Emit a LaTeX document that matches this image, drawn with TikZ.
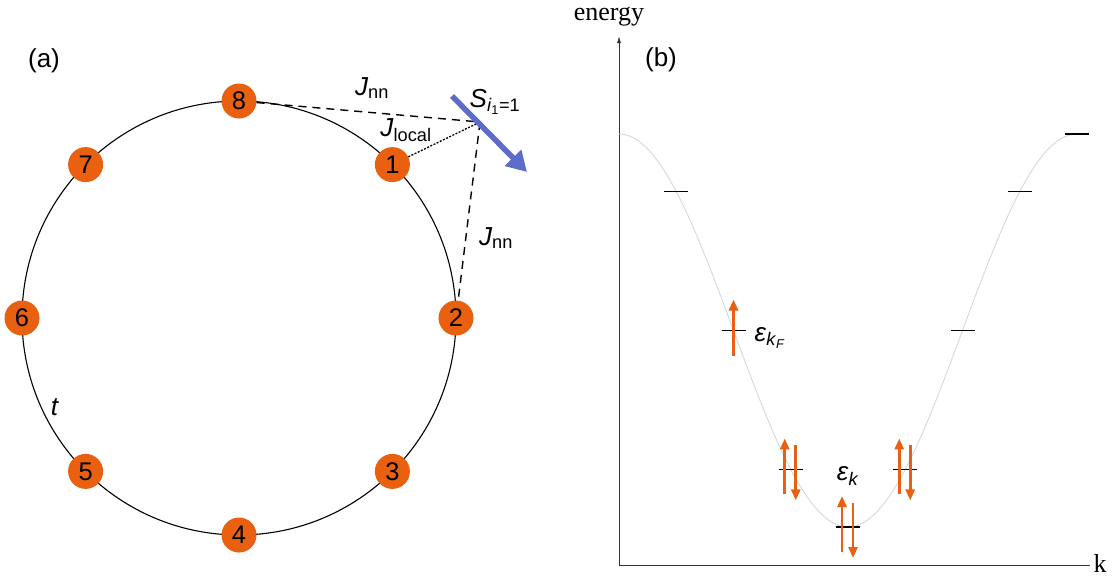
\documentclass[tikz,border=0pt]{standalone}
\usepackage{fontspec}
\setmainfont{Liberation Sans}
\newfontfamily\seriffont{Liberation Serif}
\usetikzlibrary{arrows.meta}
\definecolor{siteorange}{RGB}{232,96,16}
\definecolor{spinblue}{RGB}{92,108,200}
\definecolor{curvegray}{RGB}{215,215,215}
\begin{document}
\begin{tikzpicture}[x=1pt,y=-1pt,
  site/.style={circle,fill=siteorange,inner sep=0pt,minimum size=35pt,font=\fontsize{25.5}{26}\selectfont},
  lbl/.style={font=\fontsize{26}{28}\selectfont,inner sep=0pt},
  coupling/.style={dash pattern=on 8pt off 6pt,line width=1.4pt},
  localc/.style={dash pattern=on 2pt off 1.5pt,line width=1.3pt},
  levelbar/.style={line width=1.7pt},
  spinup/.style={siteorange,line width=2.8pt,-{Triangle[length=11pt,width=9pt]}},
]
\useasboundingbox (0,0) rectangle (1116,581);
% ---- panel (a)
\draw[line width=1.1pt] (239,318) circle[radius=217pt];
\node[site] (n8) at (239,101) {8};
\node[site] (n1) at (392.4,164.6) {1};
\node[site] (n2) at (456,318) {2};
\node[site] (n3) at (392.4,471.4) {3};
\node[site] (n4) at (239,535) {4};
\node[site] (n5) at (85.6,471.4) {5};
\node[site] (n6) at (22,318) {6};
\node[site] (n7) at (85.6,164.6) {7};
\coordinate (S) at (480,122);
\coordinate (Sa) at (452,96);
\coordinate (Sb) at (527,172);
\draw[coupling] (n8) -- (S);
\draw[coupling] (S) -- (n2);
\draw[localc] (n1) -- (S);
\draw[spinblue,line width=5.5pt,-{Triangle[length=20pt,width=22pt]}] (Sa) -- (Sb);
\node[lbl] (a) at (44,61) {(a)};
\node[lbl] (jnn1) at (372,88) {\textit{J}\textsubscript{nn}};
\node[lbl] (jloc) at (406,130) {\textit{J}\textsubscript{local}};
\node[lbl] (spin) at (495,102) {\textit{S}\textsubscript{\textit{i}\textsubscript{1}=1}};
\node[lbl] (jnn2) at (496,238) {\textit{J}\textsubscript{nn}};
\node[lbl] (t) at (55,407) {\textit{t}};
% ---- panel (b)
\coordinate (O) at (619,565);
\coordinate (Ytop) at (619,36);
\coordinate (Xend) at (1090,565);
\draw[black!80,line width=0.8pt,-{Latex[length=7pt,width=4pt]}] (O) -- (Ytop);
\draw[black!80,line width=0.8pt] (O) -- (Xend);
\node[font=\seriffont\fontsize{26}{28}\selectfont,inner sep=0pt] (en) at (609,17) {energy};
\node[font=\seriffont\fontsize{26}{28}\selectfont,inner sep=0pt] (k) at (1100,563) {k};
\node[lbl] (b) at (661,60) {(b)};
\draw[curvegray,line width=0.9pt] plot[domain=0:360,samples=150] ({619+1.272222*\x},{330.5-196.5*cos(\x)});
\foreach \m in {-3,...,4}{
  \draw[levelbar] ({848+57.25*\m-12},{527-196.5*(1-cos(45*\m))}) -- ++(24,0);
}
% Fermi level: single up
\draw[spinup] ({848-2*57.25},{527-196.5+25}) -- ++(0,-56);
% doubly occupied levels
\foreach \m in {-1,0,1}{
  \draw[spinup] ({848+57.25*\m-6},{527-196.5*(1-cos(45*\m))+25}) -- ++(0,-56);
  \draw[spinup] ({848+57.25*\m+5},{527-196.5*(1-cos(45*\m))-24}) -- ++(0,55);
}
\node[lbl] (ekf) at (770,338) {\textit{ε}\textsubscript{\textit{k}\textsubscript{\textit{F}}}};
\node[lbl] (ek) at (848,476) {\textit{ε}\textsubscript{\textit{k}}};
\end{tikzpicture}
\end{document}
